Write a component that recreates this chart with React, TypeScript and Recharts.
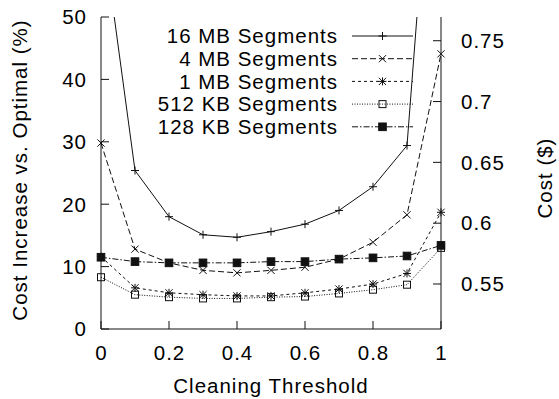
import { Legend, Line, LineChart, XAxis, YAxis } from "recharts";

const thresholds = [0, 0.1, 0.2, 0.3, 0.4, 0.5, 0.6, 0.7, 0.8, 0.9, 1];
const seg16mb = [65.7, 25.4, 18.0, 15.1, 14.7, 15.6, 16.8, 19.0, 22.8, 29.4, 100];
const seg4mb = [29.8, 12.8, 10.6, 9.4, 9.0, 9.4, 9.9, 11.2, 13.9, 18.3, 44.1];
const seg1mb = [11.6, 6.6, 5.8, 5.5, 5.3, 5.3, 5.8, 6.4, 7.2, 8.9, 18.7];
const seg512kb = [8.3, 5.5, 5.1, 4.9, 4.9, 5.1, 5.2, 5.7, 6.3, 7.1, 13.0];
const seg128kb = [11.5, 10.8, 10.6, 10.6, 10.6, 10.8, 10.8, 11.2, 11.4, 11.7, 13.4];

const xTicks = [0, 0.2, 0.4, 0.6, 0.8, 1];
const pctTicks = [0, 10, 20, 30, 40, 50];
const costTicks = [0.55, 0.6, 0.65, 0.7, 0.75];
// right axis is the same scale: cost = 0.513 * (1 + pct / 100)
const costBase = 0.513;

const series = [
  { key: "s16", name: "16 MB Segments", values: seg16mb, dash: undefined, marker: "plus" },
  { key: "s4", name: "4 MB Segments", values: seg4mb, dash: "6 3", marker: "cross" },
  { key: "s1", name: "1 MB Segments", values: seg1mb, dash: "3 3", marker: "star" },
  { key: "s512", name: "512 KB Segments", values: seg512kb, dash: "1 1.5", marker: "box" },
  { key: "s128", name: "128 KB Segments", values: seg128kb, dash: "6 2 1.5 2", marker: "fbox" },
];

const rows = thresholds.map((x, i) => {
  const r: Record<string, number> = { x };
  series.forEach((s) => (r[s.key] = s.values[i]));
  return r;
});

const FONT = "'Liberation Sans', Arial, Helvetica, sans-serif";
const FS = 20.5;
const LS = 1.0;
const MID = 7.3; // half cap height, to centre text on a point
const TICK = 8;
const INK = "#111";

function Marker({ kind, cx, cy }: { kind: string; cx: number; cy: number }) {
  if (cx == null || cy == null || isNaN(cx) || isNaN(cy)) return <g />;
  const p = 4;
  const c = 3.6;
  const plus = (
    <>
      <line x1={cx - p} y1={cy} x2={cx + p} y2={cy} />
      <line x1={cx} y1={cy - p} x2={cx} y2={cy + p} />
    </>
  );
  const cross = (
    <>
      <line x1={cx - c} y1={cy - c} x2={cx + c} y2={cy + c} />
      <line x1={cx - c} y1={cy + c} x2={cx + c} y2={cy - c} />
    </>
  );
  return (
    <g stroke={INK} strokeWidth={1} fill="none">
      {kind === "plus" && plus}
      {kind === "cross" && cross}
      {kind === "star" && (
        <>
          {plus}
          {cross}
        </>
      )}
      {kind === "box" && <rect x={cx - 3.5} y={cy - 3.5} width={7} height={7} />}
      {kind === "fbox" && <rect x={cx - 3.8} y={cy - 3.8} width={7.6} height={7.6} fill={INK} />}
    </g>
  );
}

const textStyle = { fontFamily: FONT, fontSize: FS, letterSpacing: LS, fill: "#000" };

function BottomTick(props: any) {
  const { x, y, payload } = props;
  return (
    <g>
      <line x1={x} y1={y} x2={x} y2={y - TICK} stroke={INK} />
      <text x={x + LS / 2} y={y + 31} textAnchor="middle" style={textStyle}>
        {String(payload.value)}
      </text>
    </g>
  );
}

function TopTick(props: any) {
  const { x, y } = props;
  return <line x1={x} y1={y} x2={x} y2={y + TICK} stroke={INK} />;
}

function LeftTick(props: any) {
  const { x, y, payload } = props;
  return (
    <g>
      <line x1={x} y1={y} x2={x + TICK} y2={y} stroke={INK} />
      <text x={x - 15 + LS} y={y + MID} textAnchor="end" style={textStyle}>
        {String(payload.value)}
      </text>
    </g>
  );
}

function RightTick(props: any) {
  const { x, y, payload } = props;
  return (
    <g>
      <line x1={x} y1={y} x2={x - TICK} y2={y} stroke={INK} />
      <text x={x + 20} y={y + MID} textAnchor="start" style={textStyle}>
        {String(payload.value)}
      </text>
    </g>
  );
}

function VTitle({ viewBox, text, dx, dy }: any) {
  const cx = viewBox.x + dx;
  const cy = viewBox.y + viewBox.height / 2 + dy;
  return (
    <text
      x={cx}
      y={cy}
      dy={MID}
      textAnchor="middle"
      transform={`rotate(-90 ${cx} ${cy})`}
      style={textStyle}
    >
      {text}
    </text>
  );
}

function XTitle({ viewBox }: any) {
  return (
    <text
      x={viewBox.x + viewBox.width / 2}
      y={viewBox.y + 64}
      textAnchor="middle"
      style={textStyle}
    >
      Cleaning Threshold
    </text>
  );
}

function LegendBox() {
  return (
    <svg width={559} height={140} style={{ display: "block" }}>
      {series.map((s, i) => {
        const y = 36 + i * 22.7;
        return (
          <g key={s.key}>
            <text x={337 + LS} y={y + MID} textAnchor="end" style={textStyle}>
              {s.name}
            </text>
            <line x1={352} y1={y} x2={413} y2={y} stroke={INK} strokeDasharray={s.dash} />
            <Marker kind={s.marker} cx={382.5} cy={y} />
          </g>
        );
      })}
    </svg>
  );
}

export default function App() {
  return (
    <div style={{ position: "absolute", left: 0, top: 0 }}>
      <LineChart width={559} height={399} data={rows} margin={{ top: 17, right: 0, bottom: 0, left: 0 }}>
        <XAxis
          xAxisId="bottom"
          dataKey="x"
          type="number"
          domain={[0, 1]}
          ticks={xTicks}
          orientation="bottom"
          height={70}
          tickSize={0}
          tickMargin={0}
          tickLine={false}
          axisLine={{ stroke: INK }}
          tick={<BottomTick />}
          label={<XTitle />}
        />
        <XAxis
          xAxisId="top"
          dataKey="x"
          type="number"
          domain={[0, 1]}
          ticks={xTicks}
          orientation="top"
          height={0}
          tickSize={0}
          tickMargin={0}
          tickLine={false}
          axisLine={{ stroke: INK }}
          tick={<TopTick />}
        />
        <YAxis
          yAxisId="pct"
          type="number"
          domain={[0, 50]}
          allowDataOverflow
          ticks={pctTicks}
          width={101}
          tickSize={0}
          tickMargin={0}
          tickLine={false}
          axisLine={{ stroke: INK }}
          tick={<LeftTick />}
          label={<VTitle text="Cost Increase vs. Optimal (%)" dx={20} dy={-3} />}
        />
        <YAxis
          yAxisId="cost"
          orientation="right"
          type="number"
          domain={[costBase, costBase * 1.5]}
          allowDataOverflow
          ticks={costTicks}
          width={118}
          tickSize={0}
          tickMargin={0}
          tickLine={false}
          axisLine={{ stroke: INK }}
          tick={<RightTick />}
          label={<VTitle text="Cost ($)" dx={104} dy={5} />}
        />
        <Legend
          verticalAlign="middle"
          align="center"
          layout="horizontal"
          wrapperStyle={{ left: 0, top: 0, width: 559, height: 140 }}
          content={() => <LegendBox />}
        />
        {series.map((s) => (
          <Line
            key={s.key}
            xAxisId="bottom"
            yAxisId="pct"
            type="linear"
            dataKey={s.key}
            name={s.name}
            stroke={INK}
            strokeWidth={1}
            strokeDasharray={s.dash}
            dot={(p: any) => <Marker key={`${s.key}-${p.index}`} kind={s.marker} cx={p.cx} cy={p.cy} />}
            activeDot={false}
            isAnimationActive={false}
          />
        ))}
      </LineChart>
    </div>
  );
}
